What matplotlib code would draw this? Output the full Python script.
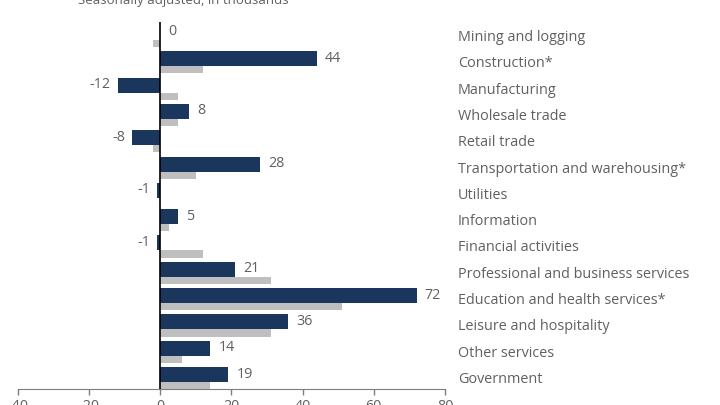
import matplotlib.pyplot as plt
import numpy as np
from matplotlib.transforms import blended_transform_factory

plt.rcParams["font.family"] = ["Open Sans", "DejaVu Sans"]

INDUSTRIES = [
    "Mining and logging",
    "Construction*",
    "Manufacturing",
    "Wholesale trade",
    "Retail trade",
    "Transportation and warehousing*",
    "Utilities",
    "Information",
    "Financial activities",
    "Professional and business services",
    "Education and health services*",
    "Leisure and hospitality",
    "Other services",
    "Government",
]
# change this month (navy) and previous average (gray), in thousands
CHANGE = [0, 44, -12, 8, -8, 28, -1, 5, -1, 21, 72, 36, 14, 19]
AVERAGE = [-2, 12, 5, 5, -2, 10, 0, 2.5, 12, 31, 51, 31, 6, 14]
X_TICKS = [-40, -20, 0, 20, 40, 60, 80]

NAVY = "#1b365d"
GRAY = "#bfbfbf"
TEXT = "#606060"


def main():
    fig = plt.figure(figsize=(7.2, 4.05), dpi=100)
    ax = fig.add_axes([18 / 720, 16 / 405, 427 / 720, 367 / 405])

    y = np.arange(len(INDUSTRIES))
    ax.barh(y - 0.13, CHANGE, height=0.57, color=NAVY, zorder=2)
    ax.barh(y + 0.29, AVERAGE, height=0.27, color=GRAY, zorder=1)
    ax.axvline(0, color="black", lw=1.2, zorder=3)

    for yi, v in zip(y, CHANGE):
        if v >= 0:
            ax.annotate(str(v), (v, yi - 0.15), xytext=(6, 0), textcoords="offset points",
                        ha="left", va="center", fontsize=10.3, color=TEXT)
        else:
            ax.annotate(str(v), (v, yi - 0.15), xytext=(-5, 0), textcoords="offset points",
                        ha="right", va="center", fontsize=10.3, color=TEXT)

    # category names sit right of the plot, in figure x / data y coordinates
    label_tr = blended_transform_factory(fig.transFigure, ax.transData)
    for yi, name in zip(y, INDUSTRIES):
        ax.text(458 / 720, yi + 0.06, name, transform=label_tr,
                ha="left", va="center", fontsize=10.4, color=TEXT)

    ax.set_xlim(-40, 80)
    ax.set_ylim(13.42, -0.53)
    ax.set_xticks(X_TICKS)
    ax.set_xticklabels([str(t) for t in X_TICKS])
    ax.set_yticks([])
    for side in ["top", "right", "left"]:
        ax.spines[side].set_visible(False)
    ax.spines["bottom"].set_color("#7f7f7f")
    ax.tick_params(axis="x", colors="#7f7f7f", length=4, width=1, pad=3,
                   labelsize=10.3, labelcolor=TEXT)

    fig.text(183 / 720, 1 - 4 / 405, "Seasonally adjusted, in thousands",
             ha="center", va="baseline", fontsize=9.5, color=TEXT)

    fig.savefig("out.png", dpi=100)
    plt.close(fig)


if __name__ == "__main__":
    main()
